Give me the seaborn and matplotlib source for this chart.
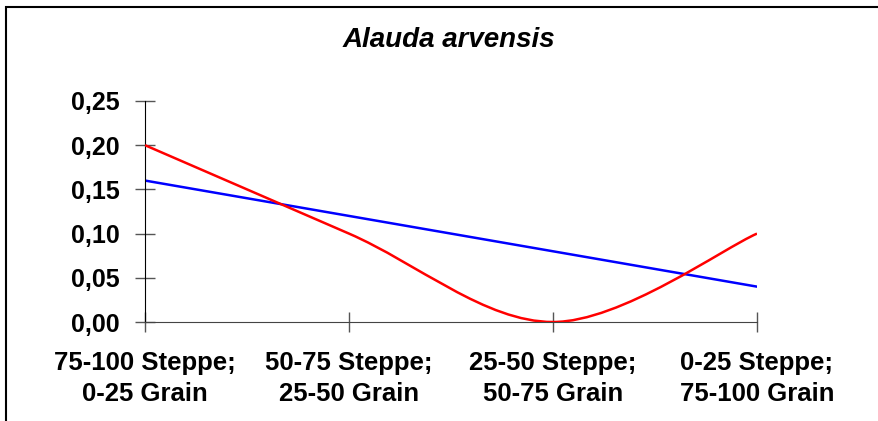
import numpy as np
import pandas as pd
import seaborn as sns
import matplotlib.pyplot as plt
from matplotlib.path import Path
from matplotlib.patches import PathPatch, Rectangle
from matplotlib.ticker import FuncFormatter

sns.set_style("white")
plt.rcParams['font.family'] = ['Liberation Sans', 'DejaVu Sans']

categorias = ["75-100 Steppe;\n0-25 Grain", "50-75 Steppe;\n25-50 Grain",
              "25-50 Steppe;\n50-75 Grain", "0-25 Steppe;\n75-100 Grain"]
valores = [0.20, 0.10, 0.00, 0.10]
titulo = "Alauda arvensis"

dados = pd.DataFrame({"pos": np.arange(len(categorias)), "valor": valores})

fig = plt.figure(figsize=(8.79, 4.21), dpi=100)
ax = fig.add_axes([145 / 879, 99 / 421, 612 / 879, 221 / 421])

# curva suavizada (bezier estilo excel)
pts = dados[["pos", "valor"]].to_numpy(dtype=float)
n = len(pts)
verts = [tuple(pts[0])]
codes = [Path.MOVETO]
for i in range(n - 1):
    p_ant = pts[max(i - 1, 0)]
    p_prox = pts[min(i + 2, n - 1)]
    c1 = pts[i] + (pts[i + 1] - p_ant) / 6
    c2 = pts[i + 1] - (p_prox - pts[i]) / 6
    verts += [tuple(c1), tuple(c2), tuple(pts[i + 1])]
    codes += [Path.CURVE4] * 3
ax.add_patch(PathPatch(Path(verts, codes), facecolor="none", edgecolor="#FF0000", lw=1.8, zorder=3))

# linha de tendencia
sns.regplot(data=dados, x="pos", y="valor", scatter=False, ci=None, ax=ax,
            line_kws={"color": "#0000FF", "lw": 1.8})

ax.set_xlim(0, 3)
ax.set_ylim(0, 0.25)
ax.set_yticks(np.arange(0, 0.26, 0.05))
ax.yaxis.set_major_formatter(FuncFormatter(lambda v, p: f"{v:.2f}".replace(".", ",")))
ax.set_xticks(dados["pos"])
ax.set_xticklabels(categorias, linespacing=1.35)
ax.set_xlabel("")
ax.set_ylabel("")

for s in ["top", "right"]:
    ax.spines[s].set_visible(False)
ax.spines["left"].set_color("black")
ax.spines["bottom"].set_color("#444444")
ax.tick_params(axis="both", direction="inout", length=14, width=1, color="#555555",
               labelcolor="black")
ax.tick_params(axis="x", pad=14, bottom=True, labelsize=18.5)
ax.tick_params(axis="y", pad=11, left=True, labelsize=18)
for lab in ax.get_xticklabels() + ax.get_yticklabels():
    lab.set_fontweight("bold")

fig.text(449 / 879, 1 - 40 / 421, titulo, ha="center", va="center", color="black",
         fontsize=20, fontweight="bold", fontstyle="italic")

fig.patches.append(Rectangle((6.5 / 879, -0.2), 1.2, 1.2 - 6.5 / 421, transform=fig.transFigure,
                             fill=False, edgecolor="black", lw=1.5, clip_on=False))

fig.savefig("out.png", dpi=100)
